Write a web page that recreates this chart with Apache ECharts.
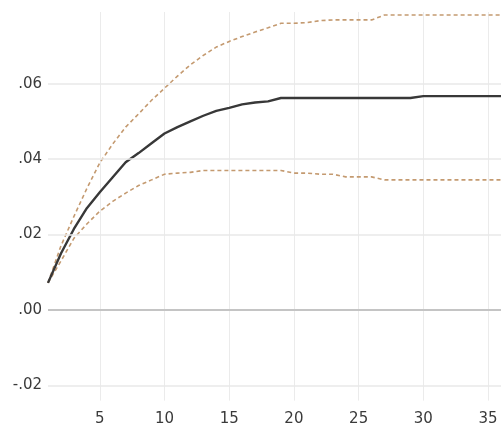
<!DOCTYPE html>
<html>
<head>
<meta charset="utf-8">
<script src="https://cdn.jsdelivr.net/npm/echarts@6/dist/echarts.min.js"></script>
<style>html,body{margin:0;padding:0;background:#fff;}#c{width:501px;height:439px;}</style>
</head>
<body>
<div id="c"></div>
<script>
const periods = Array.from({length: 36}, (_, i) => String(i + 1));
const response = [0.0072,0.0150,0.0215,0.0270,0.0312,0.0352,0.0392,0.0416,0.0442,0.0468,0.0485,0.0500,0.0515,0.0528,0.0536,0.0545,0.0550,0.0553,0.0562,0.0562,0.0562,0.0562,0.0562,0.0562,0.0562,0.0562,0.0562,0.0562,0.0562,0.0567,0.0567,0.0567,0.0567,0.0567,0.0567,0.0567];
const upper = [0.0072,0.0170,0.0248,0.0322,0.0390,0.0440,0.0485,0.0520,0.0556,0.0588,0.0620,0.0650,0.0675,0.0697,0.0712,0.0725,0.0737,0.0748,0.0760,0.0760,0.0762,0.0767,0.0769,0.0769,0.0769,0.0769,0.0782,0.0782,0.0782,0.0782,0.0782,0.0782,0.0782,0.0782,0.0782,0.0782];
const lower = [0.0072,0.0130,0.0190,0.0228,0.0262,0.0288,0.0310,0.0330,0.0345,0.0360,0.0363,0.0365,0.0370,0.0370,0.0370,0.0370,0.0370,0.0370,0.0370,0.0363,0.0363,0.0360,0.0360,0.0353,0.0353,0.0353,0.0345,0.0345,0.0345,0.0345,0.0345,0.0345,0.0345,0.0345,0.0345,0.0345];
const yTicks = [-0.02, 0, 0.02, 0.04, 0.06];

const chart = echarts.init(document.getElementById('c'), null, {renderer: 'canvas'});
const fmt = v => { let s = Number(v).toFixed(2); return s.replace('0.', '.'); };
const every5 = (idx, val) => Number(val) % 5 === 0;

chart.setOption({
  animation: false,
  backgroundColor: '#ffffff',
  grid: {left: 48, top: 12, width: 457.5, height: 388.6, containLabel: false},
  xAxis: {
    type: 'category',
    data: periods,
    boundaryGap: false,
    axisLine: {show: false},
    axisTick: {show: false},
    axisLabel: {interval: every5, color: '#3a3a3a', fontFamily: 'DejaVu Sans', fontSize: 15, margin: 11},
    splitLine: {show: true, interval: every5, lineStyle: {color: '#ebebeb', width: 1}}
  },
  yAxis: {
    type: 'value',
    min: -0.024,
    max: 0.079,
    axisLine: {show: false},
    axisTick: {show: false},
    splitLine: {show: false},
    axisLabel: {customValues: yTicks, formatter: fmt, color: '#3a3a3a', fontFamily: 'DejaVu Sans', fontSize: 15, margin: 6}
  },
  series: [
    {
      type: 'line', data: [], silent: true,
      markLine: {
        silent: true, symbol: 'none', label: {show: false}, animation: false,
        data: yTicks.map(v => ({yAxis: v, lineStyle: {color: v === 0 ? '#c4c4c4' : '#e8e8e8', width: v === 0 ? 2 : 1.5, type: 'solid'}}))
      }
    },
    {type: 'line', data: upper, symbol: 'none', lineStyle: {color: '#c49a70', width: 1.6, type: [4, 3]}, z: 3},
    {type: 'line', data: lower, symbol: 'none', lineStyle: {color: '#c49a70', width: 1.6, type: [4, 3]}, z: 3},
    {type: 'line', data: response, symbol: 'none', lineStyle: {color: '#383838', width: 2.4}, z: 4}
  ]
});
</script>
</body>
</html>
